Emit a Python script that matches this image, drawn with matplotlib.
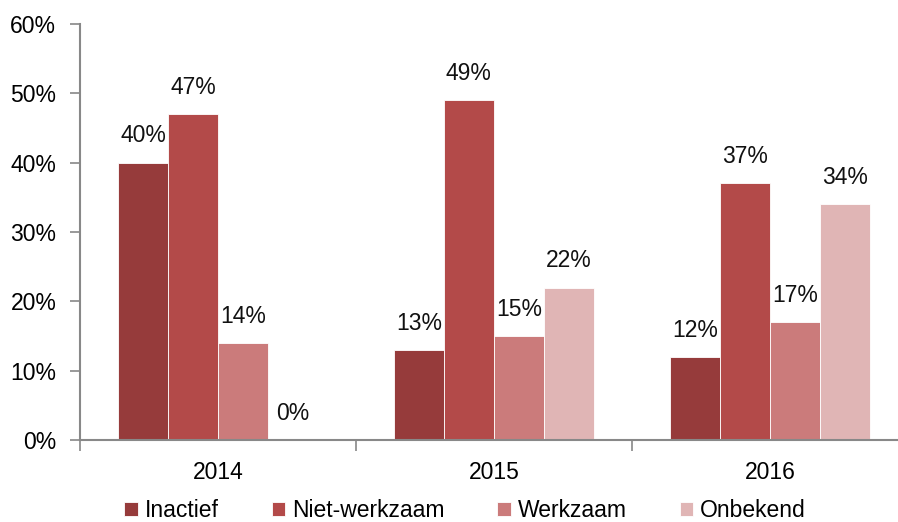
import numpy as np
import matplotlib.pyplot as plt
from matplotlib.ticker import PercentFormatter

plt.rcParams['font.family'] = ['Liberation Sans Narrow', 'Liberation Sans', 'DejaVu Sans']

years = ["2014", "2015", "2016"]
series = ["Inactief", "Niet-werkzaam", "Werkzaam", "Onbekend"]
inactief = [40, 13, 12]
niet_werkzaam = [47, 49, 37]
werkzaam = [14, 15, 17]
onbekend = [0, 22, 34]
colors = ["#963b3b", "#b34a49", "#cb7b7b", "#e0b5b5"]

values = [inactief, niet_werkzaam, werkzaam, onbekend]

fig = plt.figure(figsize=(8.98, 5.22), dpi=100)
ax = fig.add_axes([0.089, 0.157, 0.922, 0.797])

x = np.arange(len(years))
w = 0.181
for i, (name, vals) in enumerate(zip(series, values)):
    pos = x + (i - 1.5) * w
    ax.bar(pos, vals, w, color=colors[i], label=name,
           edgecolor="white", linewidth=0.6)
    for p, v in zip(pos, vals):
        ax.text(p, v + 2.2, f"{v}%", ha="center", va="bottom", fontsize=16.5, color="#111111")

ax.set_xlim(-0.5, 2.5)
ax.set_ylim(0, 60)
ax.set_yticks(range(0, 61, 10))
ax.yaxis.set_major_formatter(PercentFormatter(decimals=0))
ax.set_xticks(x)
ax.set_xticklabels(years)
ax.set_xticks([-0.5, 0.5, 1.5, 2.5], minor=True)
ax.tick_params(axis="x", which="major", length=0, pad=15, labelsize=16.5)
ax.tick_params(axis="x", which="minor", length=8, color="#888888", width=1.2)
ax.tick_params(axis="y", length=7, color="#888888", width=1.2, labelsize=16.5, pad=10)

for s in ["top", "right"]:
    ax.spines[s].set_visible(False)
for s in ["left", "bottom"]:
    ax.spines[s].set_color("#888888")
    ax.spines[s].set_linewidth(1.5)

handles, labels = ax.get_legend_handles_labels()
fig.legend(handles, labels, loc="center", bbox_to_anchor=(0.518, 0.022), ncol=4, frameon=False,
           fontsize=16.5, handlelength=0.6, handleheight=0.6, handletextpad=0.3,
           columnspacing=2.3, borderaxespad=0, borderpad=0)

fig.savefig("out.png", dpi=100)
